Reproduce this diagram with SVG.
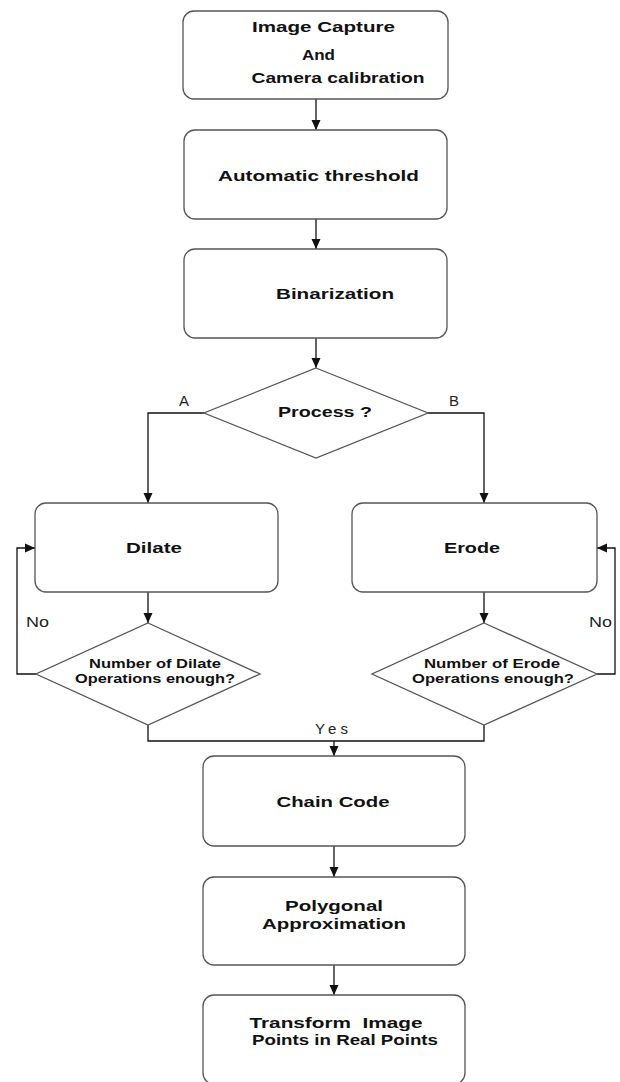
<svg xmlns="http://www.w3.org/2000/svg" width="620" height="1082" viewBox="0 0 620 1082">
<defs>
<style>
.box{fill:#fff;stroke:#555;stroke-width:1.3}
.dia{fill:#fff;stroke:#555;stroke-width:1.3}
.t{font-family:"Liberation Sans",Arial,sans-serif;font-weight:bold;font-size:15px;fill:#111;text-anchor:middle}
.s{font-family:"Liberation Sans",Arial,sans-serif;font-weight:bold;font-size:12.5px;fill:#111;text-anchor:middle}
.l{font-family:"Liberation Sans",Arial,sans-serif;font-size:15px;fill:#222;text-anchor:middle}
.c{fill:none;stroke:#111;stroke-width:1.3}
</style>
<marker id="ah" markerUnits="userSpaceOnUse" markerWidth="10" markerHeight="10" refX="10" refY="5" orient="auto">
<path d="M0,0.5 L10,5 L0,9.5 Z" fill="#111"/>
</marker>
</defs>
<rect width="620" height="1082" fill="#fff"/>

<g id="connectors">
<line class="c" x1="316" y1="99" x2="316" y2="130" marker-end="url(#ah)"/>
<line class="c" x1="316" y1="219" x2="316" y2="249" marker-end="url(#ah)"/>
<line class="c" x1="316" y1="338" x2="316" y2="368" marker-end="url(#ah)"/>
<path class="c" d="M204,413 H148 V503" marker-end="url(#ah)"/>
<path class="c" d="M428,413 H484 V503" marker-end="url(#ah)"/>
<line class="c" x1="148" y1="592" x2="148" y2="623" marker-end="url(#ah)"/>
<line class="c" x1="484" y1="592" x2="484" y2="623" marker-end="url(#ah)"/>
<path class="c" d="M36,674 H17 V548 H35" marker-end="url(#ah)"/>
<path class="c" d="M597,674 H615 V548 H597" marker-end="url(#ah)"/>
<path class="c" d="M148,725 V741 H484 V725"/>
<line class="c" x1="334" y1="741" x2="334" y2="756" marker-end="url(#ah)"/>
<line class="c" x1="334" y1="846" x2="334" y2="877" marker-end="url(#ah)"/>
<line class="c" x1="334" y1="965" x2="334" y2="995" marker-end="url(#ah)"/>
<text class="l" x="184" y="406">A</text>
<text class="l" x="454" y="406">B</text>
<text class="l" x="37.5" y="627" textLength="23" lengthAdjust="spacingAndGlyphs">No</text>
<text class="l" x="600.5" y="627" textLength="23" lengthAdjust="spacingAndGlyphs">No</text>
<text class="l" x="331.5" y="734" font-size="16" textLength="33" lengthAdjust="spacing">Yes</text>
</g>

<g id="capture">
<rect class="box" x="183" y="11" width="265" height="88" rx="11"/>
<text class="t" x="323.5" y="32" textLength="143" lengthAdjust="spacingAndGlyphs">Image Capture</text>
<text class="t" x="318.5" y="60" textLength="33" lengthAdjust="spacingAndGlyphs">And</text>
<text class="t" x="338" y="83" textLength="173" lengthAdjust="spacingAndGlyphs">Camera calibration</text>
</g>

<g id="threshold">
<rect class="box" x="184" y="130" width="263" height="89" rx="11"/>
<text class="t" x="318.5" y="181" textLength="201" lengthAdjust="spacingAndGlyphs">Automatic threshold</text>
</g>

<g id="binarization">
<rect class="box" x="184" y="249" width="263" height="89" rx="11"/>
<text class="t" x="335" y="299" textLength="118" lengthAdjust="spacingAndGlyphs">Binarization</text>
</g>

<g id="process">
<polygon class="dia" points="316,368 428,413 316,458 204,413"/>
<text class="t" x="325" y="417" textLength="94" lengthAdjust="spacingAndGlyphs">Process ?</text>
</g>

<g id="dilate">
<rect class="box" x="35" y="503" width="243" height="89" rx="11"/>
<text class="t" x="154" y="553" textLength="56" lengthAdjust="spacingAndGlyphs">Dilate</text>
</g>

<g id="erode">
<rect class="box" x="352" y="503" width="245" height="89" rx="11"/>
<text class="t" x="472" y="553" textLength="56" lengthAdjust="spacingAndGlyphs">Erode</text>
</g>

<g id="dilate-check">
<polygon class="dia" points="148,623 260,674 148,725 36,674"/>
<text class="s" x="155" y="668" textLength="132" lengthAdjust="spacingAndGlyphs">Number of Dilate</text>
<text class="s" x="155" y="683" textLength="160" lengthAdjust="spacingAndGlyphs">Operations enough?</text>
</g>

<g id="erode-check">
<polygon class="dia" points="484,623 597,674 484,725 372,674"/>
<text class="s" x="492" y="668" textLength="136" lengthAdjust="spacingAndGlyphs">Number of Erode</text>
<text class="s" x="493" y="683" textLength="162" lengthAdjust="spacingAndGlyphs">Operations enough?</text>
</g>

<g id="chain">
<rect class="box" x="203" y="756" width="262" height="90" rx="11"/>
<text class="t" x="333" y="807" textLength="113" lengthAdjust="spacingAndGlyphs">Chain Code</text>
</g>

<g id="polygonal">
<rect class="box" x="203" y="877" width="262" height="88" rx="11"/>
<text class="t" x="334" y="911" textLength="98" lengthAdjust="spacingAndGlyphs">Polygonal</text>
<text class="t" x="334" y="929" textLength="144" lengthAdjust="spacingAndGlyphs">Approximation</text>
</g>

<g id="transform">
<rect class="box" x="203" y="995" width="262" height="89" rx="11"/>
<text class="t" x="336" y="1028" textLength="173" lengthAdjust="spacingAndGlyphs" xml:space="preserve">Transform  Image</text>
<text class="t" x="345" y="1045" textLength="186" lengthAdjust="spacingAndGlyphs">Points in Real Points</text>
</g>
</svg>
